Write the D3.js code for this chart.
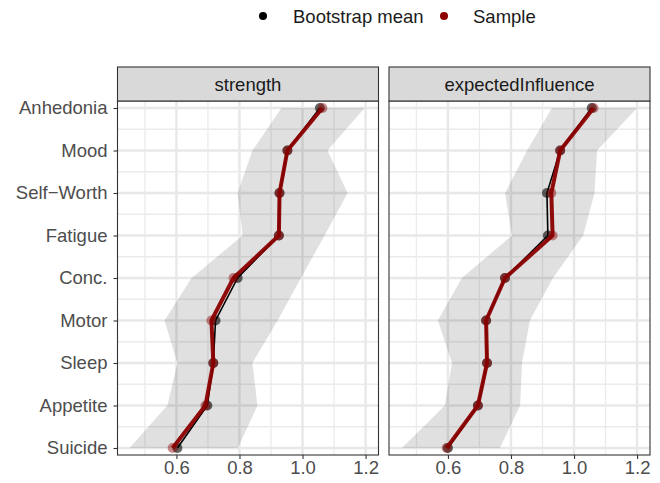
<!DOCTYPE html>
<meta charset="utf-8">
<script src="https://d3js.org/d3.v7.min.js"></script>
<style>
body { margin: 0; background: #fff; }
text { font-family: "Liberation Sans", Arial, sans-serif; }
</style>
<body>
<div id="chart"></div>
<script>
// data
var nodes = ["Anhedonia", "Mood", "Self\u2212Worth", "Fatigue", "Conc.", "Motor", "Sleep", "Appetite", "Suicide"];
var panels = ["strength", "expectedInfluence"];

var strengthSample = [1.063, 0.952, 0.927, 0.925, 0.781, 0.711, 0.717, 0.692, 0.588];
var strengthBoot   = [1.055, 0.952, 0.927, 0.925, 0.794, 0.724, 0.717, 0.698, 0.603];
var strengthLower  = [0.933, 0.841, 0.794, 0.810, 0.648, 0.562, 0.603, 0.571, 0.451];
var strengthUpper  = [1.197, 1.079, 1.143, 1.070, 0.995, 0.921, 0.841, 0.857, 0.795];

var eiSample = [1.062, 0.956, 0.928, 0.932, 0.781, 0.721, 0.724, 0.695, 0.596];
var eiBoot   = [1.056, 0.956, 0.914, 0.917, 0.781, 0.721, 0.724, 0.695, 0.600];
var eiLower  = [0.930, 0.851, 0.781, 0.803, 0.644, 0.568, 0.613, 0.590, 0.454];
var eiUpper  = [1.200, 1.073, 1.065, 1.029, 0.933, 0.860, 0.835, 0.829, 0.765];

var xTicks = [0.6, 0.8, 1.0, 1.2];
var xMinor = [0.5, 0.7, 0.9, 1.1];

var series = {
  strength: {sample: strengthSample, boot: strengthBoot, lower: strengthLower, upper: strengthUpper},
  expectedInfluence: {sample: eiSample, boot: eiBoot, lower: eiLower, upper: eiUpper}
};

var W = 660, H = 483;
var panelLeft = [117.5, 389], panelW = 261;
var stripTop = 67, panelTop = 101, panelBottom = 455;
var fs = 18.5;

var svg = d3.select("#chart").append("svg")
  .attr("width", W).attr("height", H);

var x = d3.scaleLinear().domain([0.413, 1.241]).range([0, panelW]);
var y = d3.scalePoint().domain(nodes).range([7, 347]);
var step = y.step();

// legend
var legend = svg.append("g").attr("transform", "translate(0,16)");
legend.append("circle").attr("cx", 263).attr("cy", 0).attr("r", 4).attr("fill", "#000");
legend.append("text").attr("x", 293).attr("y", 6.5).attr("font-size", fs).attr("fill", "#1a1a1a").text("Bootstrap mean");
legend.append("circle").attr("cx", 444).attr("cy", 0).attr("r", 4).attr("fill", "#8b0000");
legend.append("text").attr("x", 473).attr("y", 6.5).attr("font-size", fs).attr("fill", "#1a1a1a").text("Sample");

panels.forEach(function(p, i) {
  var d = series[p];
  var g = svg.append("g").attr("transform", "translate(" + panelLeft[i] + "," + panelTop + ")");
  var ph = panelBottom - panelTop;

  // strip
  svg.append("rect")
    .attr("x", panelLeft[i]).attr("y", stripTop)
    .attr("width", panelW).attr("height", panelTop - stripTop)
    .attr("fill", "#d9d9d9").attr("stroke", "#333").attr("stroke-width", 1.1);
  svg.append("text")
    .attr("x", panelLeft[i] + panelW / 2).attr("y", (stripTop + panelTop) / 2 + 6.5)
    .attr("text-anchor", "middle").attr("font-size", fs).attr("fill", "#1a1a1a")
    .text(p);

  // grid
  g.selectAll(".minx").data(xMinor).enter().append("line")
    .attr("x1", function(v) { return x(v); }).attr("x2", function(v) { return x(v); })
    .attr("y1", 0).attr("y2", ph).attr("stroke", "#ebebeb").attr("stroke-width", 1.3);
  g.selectAll(".miny").data(nodes.slice(1)).enter().append("line")
    .attr("x1", 0).attr("x2", panelW)
    .attr("y1", function(n) { return y(n) - step / 2; }).attr("y2", function(n) { return y(n) - step / 2; })
    .attr("stroke", "#ebebeb").attr("stroke-width", 1.3);
  g.selectAll(".majx").data(xTicks).enter().append("line")
    .attr("x1", function(v) { return x(v); }).attr("x2", function(v) { return x(v); })
    .attr("y1", 0).attr("y2", ph).attr("stroke", "#e8e8e8").attr("stroke-width", 2.4);
  g.selectAll(".majy").data(nodes).enter().append("line")
    .attr("x1", 0).attr("x2", panelW)
    .attr("y1", function(n) { return y(n); }).attr("y2", function(n) { return y(n); })
    .attr("stroke", "#e8e8e8").attr("stroke-width", 2.4);

  // CI band
  var area = d3.area()
    .y(function(v, k) { return y(nodes[k]); })
    .x0(function(v, k) { return x(d.lower[k]); })
    .x1(function(v, k) { return x(d.upper[k]); });
  g.append("path").datum(nodes).attr("d", area)
    .attr("fill", "#000").attr("fill-opacity", 0.12);

  var line = function(vals) {
    return d3.line().x(function(v) { return x(v); }).y(function(v, k) { return y(nodes[k]); })(vals);
  };

  g.append("path").attr("d", line(d.boot)).attr("fill", "none")
    .attr("stroke", "#000").attr("stroke-width", 1.6);
  g.selectAll(".bp").data(d.boot).enter().append("circle")
    .attr("cx", function(v) { return x(v); }).attr("cy", function(v, k) { return y(nodes[k]); })
    .attr("r", 5).attr("fill", "#000").attr("fill-opacity", 0.6);

  g.append("path").attr("d", line(d.sample)).attr("fill", "none")
    .attr("stroke", "#8b0000").attr("stroke-width", 4).attr("stroke-opacity", 0.95)
    .attr("stroke-linejoin", "round");
  g.selectAll(".sp").data(d.sample).enter().append("circle")
    .attr("cx", function(v) { return x(v); }).attr("cy", function(v, k) { return y(nodes[k]); })
    .attr("r", 5).attr("fill", "#8b0000").attr("fill-opacity", 0.45);

  // border
  g.append("rect").attr("width", panelW).attr("height", ph)
    .attr("fill", "none").attr("stroke", "#333").attr("stroke-width", 1.1);

  // x axis
  var xa = g.append("g").attr("transform", "translate(0," + ph + ")")
    .call(d3.axisBottom(x).tickValues(xTicks).tickFormat(d3.format(".1f")).tickSize(4).tickPadding(2));
  xa.select(".domain").remove();
  xa.selectAll("line").attr("stroke", "#333").attr("stroke-width", 1.1);
  xa.selectAll("text").attr("font-size", fs).attr("fill", "#4d4d4d")
    .attr("font-family", "Liberation Sans, Arial, sans-serif");

  if (i === 0) {
    var ya = g.append("g")
      .call(d3.axisLeft(y).tickSize(4).tickPadding(6));
    ya.select(".domain").remove();
    ya.selectAll("line").attr("stroke", "#333").attr("stroke-width", 1.1);
    ya.selectAll("text").attr("font-size", fs).attr("fill", "#4d4d4d")
      .attr("font-family", "Liberation Sans, Arial, sans-serif");
  }
});
</script>
</body>
